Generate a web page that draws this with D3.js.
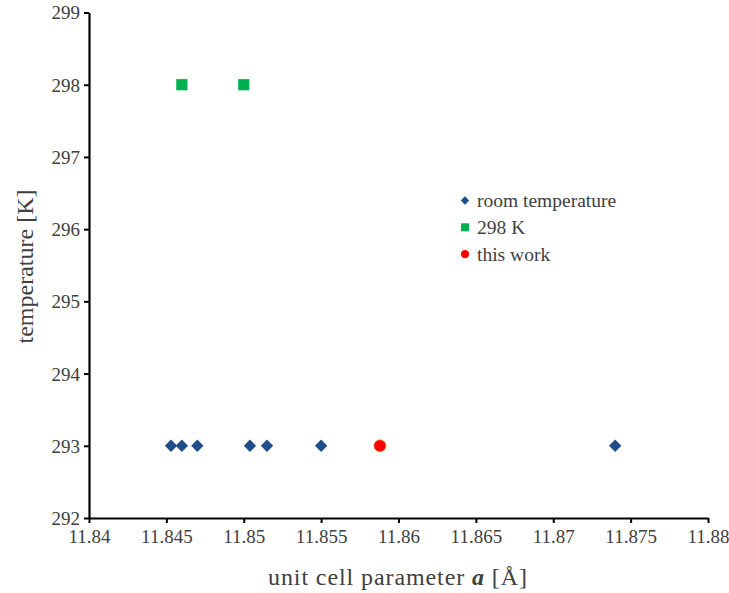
<!DOCTYPE html>
<html><head><meta charset="utf-8">
<script src="https://d3js.org/d3.v7.min.js"></script>
<style>
body{margin:0;background:#fff}
svg text{font-family:'Liberation Serif','Times New Roman',serif !important}
</style>
</head><body>
<script>
const roomTempA = [11.8453, 11.846, 11.847, 11.8504, 11.8515, 11.855, 11.874];
const roomTempT = [293, 293, 293, 293, 293, 293, 293];
const k298A = [11.846, 11.85];
const k298T = [298, 298];
const thisWorkA = [11.8588];
const thisWorkT = [293];
const xTicks = [11.84, 11.845, 11.85, 11.855, 11.86, 11.865, 11.87, 11.875, 11.88];
const yTicks = [292, 293, 294, 295, 296, 297, 298, 299];
const legendLabels = ["room temperature", "298 K", "this work"];

const W = 729, H = 593;
const svg = d3.select("body").append("svg").attr("width", W).attr("height", H);
const x = d3.scaleLinear().domain([11.84, 11.88]).range([89, 708]);
const y = d3.scaleLinear().domain([292, 299]).range([518, 12.5]);
const font = "'Liberation Serif', 'Times New Roman', serif";

const xa = svg.append("g").attr("transform", `translate(0,${y(292)})`)
  .call(d3.axisBottom(x).tickValues(xTicks).tickFormat(d => String(+d.toFixed(3))).tickSize(5).tickSizeOuter(0));
const ya = svg.append("g").attr("transform", `translate(${x(11.84)},0)`)
  .call(d3.axisLeft(y).tickValues(yTicks).tickFormat(d3.format("d")).tickSize(5).tickSizeOuter(0));
[xa, ya].forEach(a => {
  a.attr("font-family", font).attr("font-size", 19);
  a.select(".domain").attr("stroke", "#000").attr("stroke-width", 2.2);
  a.selectAll(".tick line").attr("stroke", "#000").attr("stroke-width", 2);
  a.selectAll(".tick text").style("font-family", font).style("font-size", "19px").attr("fill", "#404040");
});
xa.selectAll(".tick text").attr("y", 25).attr("dy", 0);
ya.selectAll(".tick text").attr("x", -9).attr("dy", "0.34em");

const diamond = d3.symbol().type(d3.symbolDiamond2).size(98);
const square = d3.symbol().type(d3.symbolSquare).size(125);
const circle = d3.symbol().type(d3.symbolCircle).size(115);

svg.append("g").selectAll("path").data(roomTempA).join("path")
  .attr("d", diamond).attr("fill", "#1f4e8a")
  .attr("transform", (d, i) => `translate(${x(d)},${y(roomTempT[i])})`);
svg.append("g").selectAll("path").data(k298A).join("path")
  .attr("d", square).attr("fill", "#00b050")
  .attr("transform", (d, i) => `translate(${x(d)},${y(k298T[i])})`);
svg.append("g").selectAll("path").data(thisWorkA).join("path")
  .attr("d", circle).attr("fill", "#ff0000").attr("stroke", "#e0a040").attr("stroke-width", 0.6)
  .attr("transform", (d, i) => `translate(${x(d)},${y(thisWorkT[i])})`);

// legend
const lg = svg.append("g").attr("transform", "translate(465,200.5)");
const syms = [
  [d3.symbol().type(d3.symbolDiamond2).size(45), "#1f4e8a"],
  [d3.symbol().type(d3.symbolSquare).size(64), "#00b050"],
  [d3.symbol().type(d3.symbolCircle).size(55), "#ff0000"]
];
legendLabels.forEach((t, i) => {
  const g = lg.append("g").attr("transform", `translate(0,${i * 26.8})`);
  g.append("path").attr("d", syms[i][0]).attr("fill", syms[i][1]);
  g.append("text").attr("x", 12).attr("dy", "0.33em").style("font-family", font)
    .style("font-size", "19.5px").attr("fill", "#404040").text(t);
});

// axis titles
svg.append("text").attr("transform", `translate(33,266.5) rotate(-90)`)
  .attr("text-anchor", "middle").style("font-family", font).style("font-size", "24px")
  .attr("fill", "#404040").text("temperature [K]");
const xt = svg.append("text").attr("x", 397.5).attr("y", 585)
  .attr("text-anchor", "middle").style("font-family", font).style("font-size", "24px")
  .attr("fill", "#404040").attr("textLength", 259).attr("lengthAdjust", "spacing");
xt.append("tspan").text("unit cell parameter ");
xt.append("tspan").attr("font-weight", "bold").attr("font-style", "italic").text("a");
xt.append("tspan").text(" [Å]");
</script>
</body></html>
